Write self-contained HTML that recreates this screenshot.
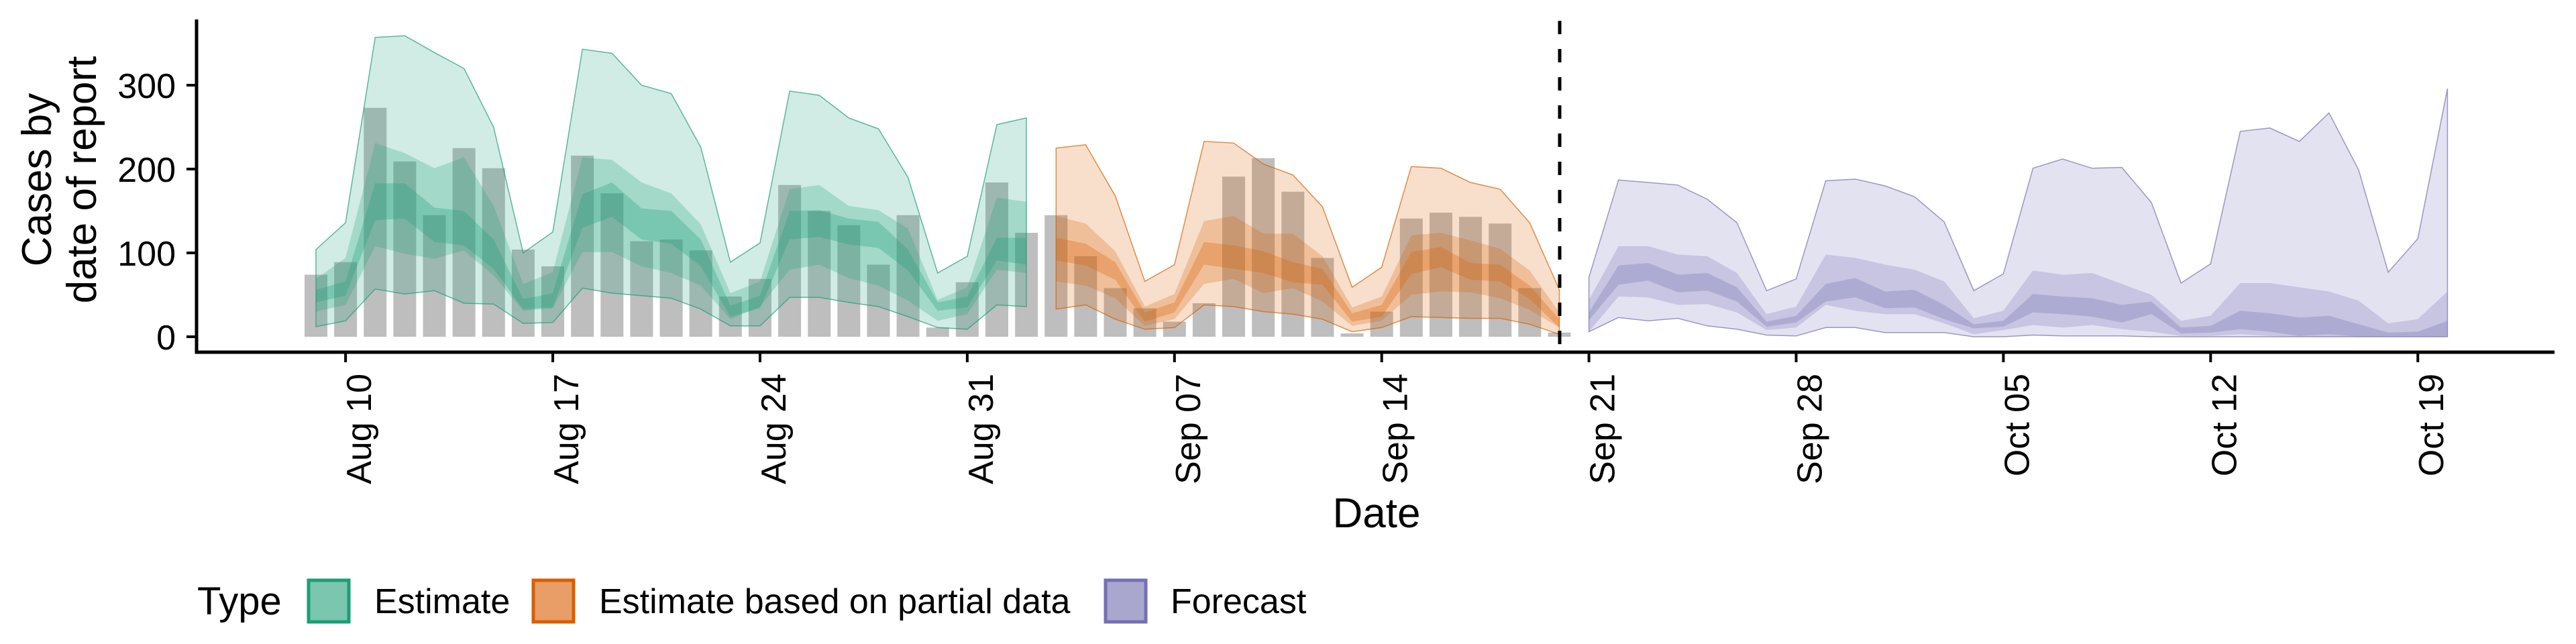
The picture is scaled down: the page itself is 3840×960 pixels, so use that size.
<!DOCTYPE html>
<html><head><meta charset="utf-8"><style>
html,body{margin:0;padding:0;background:#fff;}
svg{display:block;font-family:"Liberation Sans",sans-serif;}
</style></head><body>
<svg id="chart" width="3840" height="960" viewBox="0 0 3840 960" xmlns="http://www.w3.org/2000/svg">
<g id="bars"></g>
<g id="ribbons"></g>
<line x1="2325" y1="31" x2="2325" y2="525" stroke="#000" stroke-width="5" stroke-dasharray="20,22"/>
<g id="axes"></g>
<g font-size="62">
<text transform="translate(76,268) rotate(-90)" text-anchor="middle">Cases by</text>
<text transform="translate(143,268) rotate(-90)" text-anchor="middle">date of report</text>
</g>
<text x="2052" y="786" font-size="62" text-anchor="middle">Date</text>
<g font-size="52">
<text x="294" y="916" font-size="58">Type</text>
<rect x="460" y="865" width="60" height="62" fill="#7bc6ae" stroke="#1b9e77" stroke-width="5"/>
<text x="558" y="914">Estimate</text>
<rect x="795" y="865" width="60" height="62" fill="#e89e66" stroke="#d95f02" stroke-width="5"/>
<text x="893" y="914">Estimate based on partial data</text>
<rect x="1648" y="865" width="60" height="62" fill="#aaa7cf" stroke="#7570b3" stroke-width="5"/>
<text x="1745" y="914">Forecast</text>
</g>
</svg>
<script>
const bars=[74,89,273,209,145,225,201,104,84,216,171,114,116,103,48,69,181,150,133,86,145,11,65,184,124,145,96,58,34,18,40,191,213,173,94,4,30,141,148,143,135,58,5];
const estOuterHi=[104,136,357,359,339,320,250,100,125,343,338,300,290,226,89,112,293,288,261,248,190,76,96,253,261];
const estOuterLo=[12,19,57,51,55,40,39,16,17,58,52,49,46,33,13,13,47,47,41,36,24,11,9,38,36];
const estMidHi=[69,94,231,219,201,214,156,63,77,214,211,184,171,134,52,66,176,181,156,151,129,44,59,166,161];
const estMidLo=[30,38,108,99,93,103,73,31,34,101,101,84,76,61,21,36,80,86,70,61,43,19,27,80,76];
const estInHi=[56,66,183,183,154,150,116,45,52,170,184,153,150,116,37,49,150,151,141,137,104,41,48,118,118];
const estInLo=[41,49,139,141,113,109,81,33,35,130,143,116,111,84,24,34,116,119,110,106,79,31,35,91,86];
const parOuterHi=[225,229,168,66,86,233,231,206,193,155,59,83,203,201,184,176,136,56];
const parOuterLo=[33,38,21,9,11,38,36,30,27,21,6,11,24,23,22,22,15,3];
const parMidHi=[144,135,102,36,51,138,144,123,123,96,35,48,121,124,115,105,79,29];
const parMidLo=[66,61,46,13,21,63,69,52,58,42,13,19,50,54,53,46,32,11];
const parInHi=[118,111,89,29,41,113,109,102,89,81,28,38,101,107,88,86,61,21];
const parInLo=[91,85,68,18,29,86,81,76,65,62,18,24,75,83,68,66,45,11];
const fcOuterHi=[71,187,184,181,164,136,55,69,186,188,180,167,137,55,75,201,212,201,202,160,64,87,245,249,233,267,199,77,117,296];
const fcOuterLo=[6,23,19,22,13,9,2,1,11,11,5,5,5,0,0,2,1,1,1,0,0,0,0,0,0,0,0,0,0,0];
const fcMidHi=[44,108,108,98,96,76,27,36,98,94,86,80,66,22,31,79,74,76,63,50,19,25,64,64,59,54,43,16,21,54];
const fcMidLo=[6,48,47,38,39,29,8,11,38,31,27,27,16,3,8,14,11,14,9,6,1,1,3,1,0,0,0,0,0,0];
const fcInHi=[29,85,88,74,76,59,18,25,63,70,54,56,38,15,19,51,48,46,38,42,11,13,31,28,23,25,15,5,6,19];
const fcInLo=[20,62,67,53,55,42,12,17,42,47,34,35,21,10,12,29,27,24,17,27,4,5,9,6,1,3,0,0,0,0];
const xTickLabels=["Aug 10","Aug 17","Aug 24","Aug 31","Sep 07","Sep 14","Sep 21","Sep 28","Oct 05","Oct 12","Oct 19"];
const yTicks=[0,100,200,300];

const NS="http://www.w3.org/2000/svg";
const X0=471, DX=44.13, Y0=502, KY=1.25;
function xs(d){return X0+d*DX;}
function ys(v){return Y0-v*KY;}
function mk(tag,attrs,parent){const e=document.createElementNS(NS,tag);for(const k in attrs)e.setAttribute(k,attrs[k]);parent.appendChild(e);return e;}

const gb=document.getElementById('bars');
bars.forEach((v,i)=>{
  const r=mk('rect',{x:xs(i)-17,y:ys(v),width:34,height:Math.max(v*KY,0.5),fill:'#bebebe'},gb);
  
  
});

const gr=document.getElementById('ribbons');
function ribbon(start,hi,lo,color,op,stroke,name){
  let p='';
  hi.forEach((v,i)=>{p+=(i?'L':'M')+xs(start+i).toFixed(1)+','+ys(v).toFixed(1);});
  for(let i=lo.length-1;i>=0;i--)p+='L'+xs(start+i).toFixed(1)+','+ys(lo[i]).toFixed(1);
  p+='Z';
  const e=mk('path',{d:p,fill:color,'fill-opacity':op},gr);
  if(stroke){e.setAttribute('stroke',color);e.setAttribute('stroke-width','1.5');e.setAttribute('stroke-opacity','0.7');}
  
  
}
const sets=[
 [0,estOuterHi,estOuterLo,estMidHi,estMidLo,estInHi,estInLo,'#1b9e77','estimate'],
 [25,parOuterHi,parOuterLo,parMidHi,parMidLo,parInHi,parInLo,'#d95f02','partial'],
 [43,fcOuterHi,fcOuterLo,fcMidHi,fcMidLo,fcInHi,fcInLo,'#7570b3','forecast']];
sets.forEach(s=>{
  ribbon(s[0],s[1],s[2],s[7],0.2,true,s[8]+'-ribbon-90');
  ribbon(s[0],s[3],s[4],s[7],0.25,false,s[8]+'-ribbon-50');
  ribbon(s[0],s[5],s[6],s[7],0.3,false,s[8]+'-ribbon-20');
});

const ga=document.getElementById('axes');
let e=mk('line',{x1:293,y1:29,x2:293,y2:527,stroke:'#000','stroke-width':5},ga);


e=mk('line',{x1:291,y1:525,x2:3808,y2:525,stroke:'#000','stroke-width':5},ga);


yTicks.forEach(v=>{
  const t=mk('line',{x1:278,y1:ys(v),x2:293,y2:ys(v),stroke:'#000','stroke-width':4},ga);
  
  
  const l=mk('text',{x:262,y:ys(v)+19,'font-size':52,'text-anchor':'end'},ga);
  l.textContent=v;
  
  
});
xTickLabels.forEach((lab,i)=>{
  const x=xs(1+i*7);
  const t=mk('line',{x1:x,y1:525,x2:x,y2:540,stroke:'#000','stroke-width':4},ga);
  
  
  const l=mk('text',{transform:'translate('+(x+38)+',557) rotate(-90)','font-size':52,'text-anchor':'end'},ga);
  l.textContent=lab;
  
  
});
</script>
</body></html>
